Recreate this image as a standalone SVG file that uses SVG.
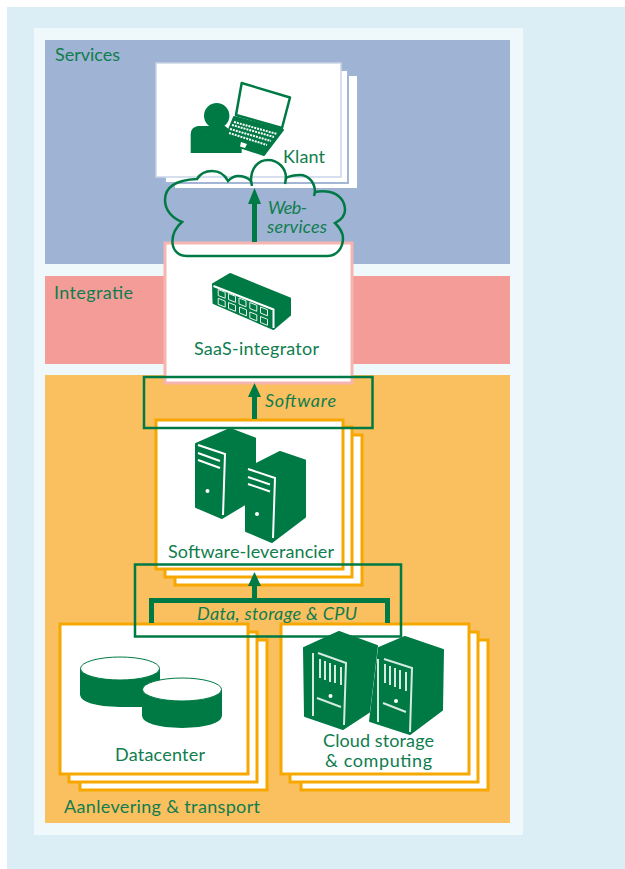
<svg xmlns="http://www.w3.org/2000/svg" width="625" height="869" viewBox="0 0 625 869">
<style>
text{font-family:Lato,"Noto Sans",sans-serif;font-size:18px;fill:#0f7d4e}
.i{font-style:italic}
.ow{fill:#fff;stroke:#f6a800;stroke-width:3}
.g{fill:#007a45;stroke:#007a45;stroke-width:2;stroke-linejoin:round}
.gl{fill:none;stroke:#007a45;stroke-width:2.500}
.gt{fill:none;stroke:#007a45;stroke-width:5}
.wl{fill:none;stroke:#fff;stroke-width:2}
.ll{fill:none;stroke:#d5eae0;stroke-width:2}
.sk{fill:#007a45;stroke:#e6f2ec;stroke-width:1}
.hd{fill:#007a45}
</style>
<defs>
<path id="sock" class="sk" d="M-3.500 -4.500L3.500 -1.700V4.300L-3.500 1.500Z"/>
</defs>
<rect x="7" y="7" width="618" height="862" fill="#dceef5"/>
<rect x="34" y="28" width="489" height="807" fill="#eff8fb"/>
<rect id="band-services" x="45" y="40" width="465" height="224" fill="#9fb3d4"/>
<rect id="band-integratie" x="45" y="276" width="465" height="88" fill="#f49c98"/>
<rect id="band-aanlevering" x="45" y="375" width="465" height="448" fill="#fabf5e"/>

<g id="klant-card">
<rect x="175" y="76" width="182" height="112" fill="#fff"/>
<rect x="165" y="70" width="183" height="113" fill="#fff" stroke="#a3b6d6" stroke-width="2"/>
<rect x="156" y="63" width="185" height="114" fill="#fff" stroke="#c9d5e7" stroke-width="1.500"/>
</g>
<g id="saas-card">
<rect x="165" y="243" width="187" height="140" fill="#fff" stroke="#f6b5b0" stroke-width="3"/>
</g>
<g id="software-card">
<rect class="ow" x="175" y="435" width="187" height="150"/>
<rect class="ow" x="165" y="427" width="187" height="150"/>
<rect class="ow" x="156" y="420" width="187" height="149"/>
</g>
<g id="datacenter-card">
<rect class="ow" x="80" y="640" width="187" height="150"/>
<rect class="ow" x="69" y="632" width="188" height="150"/>
<rect class="ow" x="60" y="624" width="188" height="150"/>
</g>
<g id="cloud-card">
<rect class="ow" x="301" y="640" width="187" height="150"/>
<rect class="ow" x="290" y="632" width="188" height="150"/>
<rect class="ow" x="281" y="624" width="188" height="150"/>
</g>

<g id="connectors">
<path class="gl" d="M187 256C178 256 173 250 172.500 243C172 235 175 228 182 222C172 218 165 210 165 200C165 188 175 180 197 179C200 174 206 171 212 171C219 171 225 175 228 181C231 178 234 176 238 176C244 176 248 178 251 181C251 168 258 160 268 160C278 160 286 168 286 178C290 176 295 175 300 175C309 175 315 183 315 192C320 191 325 191 330 192C339 194 345 201 345 210C345 216 341 220 335 223C340 228 343 233 343 238C343 248 337 256 327 256Z"/>
<path class="gl" d="M251 181L252 186M286 178L285 184M315 192L314 196"/>
<rect class="gl" x="144" y="377" width="228.500" height="51"/>
<rect class="gl" x="135" y="564.500" width="266" height="72"/>
<path class="gt" d="M254.500 242V203"/>
<path class="hd" d="M254.500 188L261 204H248Z"/>
<path class="gt" d="M254.500 419V396"/>
<path class="hd" d="M254.500 383L261 397H248Z"/>
<path class="gt" d="M254.500 600V585"/>
<path class="hd" d="M254.500 572L261 586H248Z"/>
<path class="gt" d="M151.500 623V600.500H387.500V623"/>
</g>

<g id="klant">
<circle cx="216.700" cy="115.700" r="12.700" fill="#007a45"/>
<path class="hd" d="M190.700 153V134Q191 127 198 126H225L241.700 140V153Z"/>
<path d="M241.700 83L290 97.500L282 128L236 115Z" fill="#fff" stroke="#007a45" stroke-width="2.500" stroke-linejoin="round"/>
<path class="g" d="M234 117L283 130L264 155L224 142Z"/>
<path d="M234 122L277 134M232 125L274 137M230 129L271 141M229 133L267 145" stroke="#fff" stroke-width="2" stroke-dasharray="2 1" fill="none"/>
<path d="M241 142L247 144L245 148L240 146.500Z" fill="#fff"/>
<text x="283" y="163" textLength="42">Klant</text>
</g>

<g id="saas-integrator">
<path class="g" d="M213 284L230 274L290 298.500V315L273.500 329L213.500 303Z"/>
<path class="wl" stroke-width="1.500" d="M213.500 286L273.500 309.500V328"/>
<use href="#sock" x="221.700" y="294"/><use href="#sock" x="232" y="298"/><use href="#sock" x="242.500" y="302.500"/><use href="#sock" x="253.300" y="307"/><use href="#sock" x="264" y="311.500"/>
<use href="#sock" x="221.700" y="302.800"/><use href="#sock" x="232" y="307"/><use href="#sock" x="243" y="311.500"/><use href="#sock" x="253.300" y="316.500"/><use href="#sock" x="264" y="321"/>
<text x="194" y="355" textLength="125">SaaS-integrator</text>
</g>

<g id="software-leverancier">
<path class="g" d="M196 444L230 429L255 438.500V498L222 518L196 507Z"/>
<path class="g" d="M246 469L280 452L305 460.500V517L272 542L246 531Z"/>
<path class="wl" d="M198 445L225 454L223 515M198 453L220 461M198 460L220 468"/>
<path class="wl" d="M248 469L275 478L273 538M248 477L270 484.500M248 484L270 491.500"/>
<circle cx="207.500" cy="491" r="2" fill="#fff"/>
<circle cx="257" cy="514" r="2" fill="#fff"/>
<text x="168" y="558" textLength="166">Software-leverancier</text>
</g>

<g id="datacenter">
<path class="hd" d="M80 668.500V695Q82 706 120 707H142V690H160V668.500Z"/>
<ellipse cx="120" cy="668.500" rx="39.500" ry="11.500" fill="#fff" stroke="#007a45" stroke-width="1"/>
<path class="hd" d="M142 689.500V716Q144 727 182 728Q220 727 222 716V689.500Z"/>
<ellipse cx="182" cy="689.500" rx="39.500" ry="11.500" fill="#fff" stroke="#007a45" stroke-width="1"/>
<text x="115" y="761" textLength="90">Datacenter</text>
</g>

<g id="cloud-storage">
<path class="g" d="M304 648L339 632L377 646L369 712L343 729L305 716Z"/>
<path class="g" d="M379 648L405 637L443 650L442 710L410 734L370 721Z" stroke="#fff" stroke-width=".8"/>
<path class="ll" d="M313 653V716M318 653L346 663L344 725M320 659V678M325 661V680M330 663V682M335 665V683M341 667V685M317 698L341 707M378 659V722M384 659L412 668L410 732M385 664V683M390 666V685M395 668V687M400 670V689M406 672V691M383 703L406 712"/>
<circle cx="330.500" cy="696" r="2" fill="#fff"/>
<circle cx="396" cy="701" r="2" fill="#fff"/>
<text x="323" y="747" textLength="111">Cloud storage</text>
<text x="325" y="767" textLength="107">&amp; computing</text>
</g>

<g id="labels">
<text x="55" y="61" textLength="65">Services</text>
<text x="54" y="299" textLength="79">Integratie</text>
<text x="64" y="813" textLength="196">Aanlevering &amp; transport</text>
<text class="i" x="268" y="214" textLength="39">Web-</text>
<text class="i" x="267" y="233" textLength="60">services</text>
<text class="i" x="265" y="407" textLength="71">Software</text>
<text class="i" x="197" y="620" textLength="160">Data, storage &amp; CPU</text>
</g>
</svg>
